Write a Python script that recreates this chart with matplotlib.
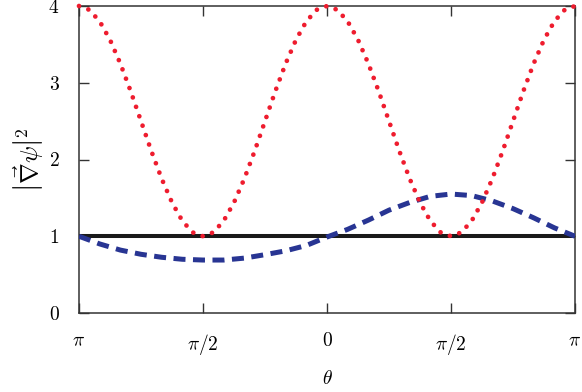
import numpy as np
import matplotlib
matplotlib.use("Agg")
import matplotlib.pyplot as plt

plt.rcParams['mathtext.fontset'] = 'cm'
plt.rcParams['font.family'] = ['DejaVu Serif']

# theta sampled in steps of pi/24 for red, pi/12 for blue (in units of pi)
theta_red = [k / 24 for k in range(-24, 25)]
red_half = [4.0, 3.95, 3.80, 3.56, 3.25, 2.89, 2.50, 2.11, 1.75, 1.44, 1.20, 1.05, 1.00,
             1.05, 1.20, 1.44, 1.75, 2.11, 2.50, 2.89, 3.25, 3.56, 3.80, 3.95]
red_vals = red_half + red_half + [4.0]

theta_blue = [k / 12 for k in range(-12, 13)]
blue_vals = [1.00, 0.90, 0.82, 0.765, 0.726, 0.70, 0.69, 0.69, 0.715, 0.76, 0.81, 0.88,
             0.99, 1.09, 1.21, 1.34, 1.44, 1.52, 1.55, 1.53, 1.46, 1.36, 1.24, 1.11, 1.00]

theta_black = [-1.0, 1.0]
black_vals = [1.0, 1.0]

xtick_pos = [-1.0, -0.5, 0.0, 0.5, 1.0]
xtick_labels = [r'$\pi$', r'$\pi/2$', r'$0$', r'$\pi/2$', r'$\pi$']
ytick_pos = [0, 1, 2, 3, 4]
ytick_labels = [r'$0$', r'$1$', r'$2$', r'$3$', r'$4$']

fig = plt.figure(figsize=(5.82, 3.92), dpi=100)
ax = fig.add_axes([79/582, 1-313/392, (575-79)/582, (313-6)/392])

ax.plot(theta_black, black_vals, color='#1a1a1a', lw=2.9, solid_capstyle='butt', zorder=2)
ax.plot(theta_blue, blue_vals, color='#283593', lw=3.6, linestyle=(0, (2.4, 1.5)),
        dash_capstyle='butt', zorder=3)
ax.plot(theta_red, red_vals, color='#ee1c2e', lw=3.4, linestyle=(0, (0.01, 2.1)),
        dash_capstyle='round', zorder=4, clip_on=False)

ax.set_xlim(-1, 1)
ax.set_ylim(0, 4)
ax.set_xticks(xtick_pos)
ax.set_xticklabels(xtick_labels, fontsize=14)
ax.set_yticks(ytick_pos)
ax.set_yticklabels(ytick_labels, fontsize=14)
ax.tick_params(direction='in', length=7, width=1.0, top=True, right=True, color='#333333')
ax.tick_params(axis='x', pad=14)
ax.tick_params(axis='y', pad=14)
for s in ax.spines.values():
    s.set_linewidth(1.1)
    s.set_color('#333333')

ax.set_xlabel(r'$\theta$', fontsize=14, labelpad=9)
ax.set_ylabel(r'$\left|\vec{\nabla}\psi\right|^2$', fontsize=18, labelpad=2)

fig.savefig('out.png', dpi=100)
